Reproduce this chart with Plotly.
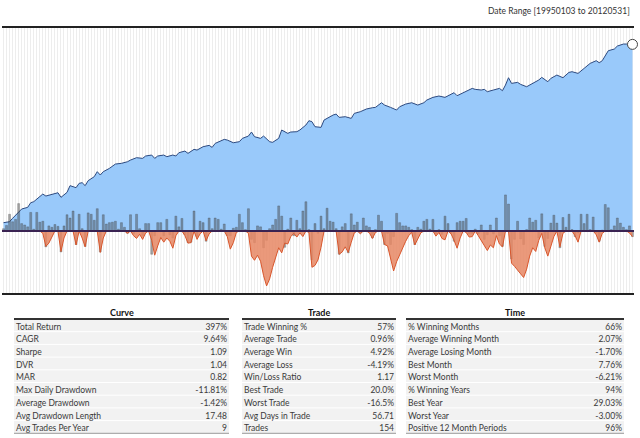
import plotly.graph_objects as go

W, H = 640, 438

# monthly strategy returns (%), Jan 1995 .. May 2012
monthly_ret = [
    0.5, 1.2, 3.6, 2.0, 2.5, 5.9, 1.6, 1.3, 0.9, 4.0, 0.4, 4.0,
    1.9, 2.1, -3.4, 1.1, 0.8, 1.4, 1.0, -4.5, 1.1, 3.5, 2.8, 4.3,
    -2.9, 3.6, 0.5, -3.3, 3.9, 3.6, 2.3, 4.8, -4.5, 3.5, 1.5, 1.8,
    1.9, 2.1, 0.4, 1.8, 0.8, -0.5, 3.5, -0.6, 3.6, 0.5, -1.0, 1.6,
    1.6, -5.0, -1.0, 1.8, 1.8, -1.0, 2.5, -0.8, -1.5, 3.2, 0.9, 2.7,
    -0.8, -2.5, -2.4, 4.3, -1.2, 2.1, 1.8, -2.2, 2.8, 0.5, 2.8, 2.5,
    0.4, 1.5, -1.0, -1.0, 0.6, 0.8, 3.6, 1.8, 0.3, 4.8, -1.8, -2.5,
    1.1, 0.9, -3.6, -2.0, 0.5, 1.3, 2.5, 5.4, 3.2, -3.5, 0.4, 2.8,
    -1.0, 2.3, 0.5, 4.3, 6.3, 0.3, -6.21, 1.6, -0.5, 3.2, 0.5, 4.9,
    2.1, 1.9, 0.5, -5.0, 0.9, 1.6, -4.7, 3.7, 1.3, 1.9, -0.4, 2.8,
    1.1, 0.8, -1.5, 0.3, 3.4, 2.1, -2.9, -0.5, -2.9, -1.2, 3.8, 1.8,
    1.1, 1.1, 0.8, 0.3, -2.9, 0.8, 0.4, 2.1, 2.5, 0.4, 2.5, -0.6,
    0.3, -0.7, 3.2, 1.6, -0.5, -2.2, 1.8, 2.1, 2.1, 2.7, -0.6, -0.5,
    0.4, -0.6, 1.3, -1.8, -0.8, 1.3, -0.6, 2.8, -1.0, -3.3, 7.76, 5.8,
    -6.0, -1.8, 2.1, -1.7, -2.9, 0.3, 2.8, 1.9, 2.3, -1.5, 3.7, -3.3,
    -1.6, 1.7, 3.4, 1.7, -3.6, 2.9, 0.8, 3.6, 0.3, -1.2, -0.4, 3.6,
    1.6, 3.6, 0.3, 3.0, -0.3, -2.2, 0.2, 5.7, 5.0, 0.3, 1.1, 2.8,
    1.7, 0.8, 0.3, 1.1, -1.2,
]

# drawdown (%) at each month end
drawdown = [
    0, 0, 0, 0, 0, 0, 0, 0, 0, 0, 0, 0,
    0, -0.5, -3.3, -2.6, -1.4, 0, 0, -4.4, -1.5, 0, 0, 0,
    -3.0, 0, -1.5, -3.4, 0, 0, 0, 0, -4.6, -1.5, 0, 0,
    0, 0, 0, 0, 0, -0.5, 0, -1.0, -1.6, -0.7, -1.8, -0.4,
    0, -2.0, -5.2, -3.2, -1.4, -2.4, -1.5, -2.2, -3.7, -1.0, 0, 0,
    -1.0, -2.6, -2.5, 0, -1.8, -0.6, 0, -2.1, -0.6, 0, 0, 0,
    0, 0, -1.2, -3.9, -2.5, -0.3, 0, 0, 0, -0.5, -5.4, -6.3,
    -5.2, -6.5, -9.6, -11.81, -10.3, -7.8, -5.4, -3.6, -4.7, -2.6, -2.8, -1.2,
    -0.5, -1.3, -0.4, -1.2, 0, -0.3, -7.8, -7.4, -6.2, -3.5, 0, 0,
    0, 0, 0, -5.0, -4.5, -3.4, -4.6, -2.4, -0.4, 0, -0.6, 0,
    0, -0.4, -1.6, -0.3, 0, 0, -2.9, -3.2, -5.6, -8.6, -6.6, -5.0,
    -3.8, -2.2, -1.0, -0.3, -3.0, -1.8, -0.4, 0, 0, 0, 0, -1.1,
    -0.3, -1.6, -1.9, 0, -0.6, -2.0, -3.7, -1.5, 0, -0.3, -1.3, -1.2,
    0, -1.0, -2.0, -3.2, -4.2, -3.0, -3.6, -1.0, -2.8, -3.4, 0, 0,
    -6.9, -7.6, -8.5, -9.2, -10.0, -8.2, -5.4, -3.6, -4.4, -2.0, -0.5, -3.6,
    -5.4, -3.4, -1.2, 0, -3.4, -0.5, 0, 0, 0, -1.0, -2.4, 0,
    0, 0, 0, 0, -0.8, -2.4, -0.5, 0, 0, 0, 0, 0,
    0, 0, 0, -0.4, -1.2,
]
months = list(range(len(monthly_ret)))

# equity curve (growth of 100), sampled at month index
eq_month = [
    0, 2, 3, 5, 6, 8, 9, 10, 13, 14, 16, 18, 19, 21, 22, 24, 25, 26, 27, 28,
    30, 31, 32, 33, 35, 37, 39, 41, 42, 44, 46, 47, 49, 50, 51, 53, 54, 56, 57, 58,
    60, 61, 63, 64, 66, 68, 69, 70, 73, 74, 76, 78, 79, 81, 82, 83, 85, 86, 88, 89,
    91, 92, 94, 95, 97, 98, 100, 101, 102, 103, 105,
    106, 109, 110, 111, 113, 115, 116, 118, 120, 122, 123, 125, 126, 128, 130, 131,
    133, 135, 137, 139, 140, 142, 144, 146, 148, 149, 150, 152, 155, 156, 158, 159,
    160, 162, 164, 165, 166, 167, 168, 170, 171, 173, 175, 177, 178, 180, 181, 183,
    185, 187, 188, 190, 192, 194, 196, 197, 198, 200, 202, 203, 205, 206, 207, 208,
]
eq_value = [
    100, 100.9, 104.0, 110.4, 113.1, 114.8, 119.7, 120.8, 129.4, 127.1,
    129.4, 130.9, 125.6, 131.3, 139.5, 137.0, 142.4, 143.3, 139.5, 145.9,
    151.2, 158.2, 153.5, 158.2, 162.9, 169.4, 170.5, 173.0, 175.6, 179.4,
    178.3, 182.1, 183.7, 178.3, 182.1, 183.7, 181.0, 183.7, 182.1, 187.6,
    190.4, 186.5, 193.3, 192.1, 198.0, 200.4, 196.8, 204.0, 211.5, 210.2,
    205.2, 207.1, 213.4, 217.9, 225.9, 216.6, 213.4, 217.9, 207.1, 205.9,
    213.4, 230.0, 223.2, 225.9, 226.6, 230.0, 240.6, 250.1, 247.9, 237.0, 235.6,
    251.6, 263.2, 265.5, 257.7, 259.3, 255.4, 267.1, 271.2, 277.8, 281.1,
    281.9, 294.0, 287.9, 281.9, 275.3, 283.6, 290.5, 294.0, 287.9, 294.0,
    301.2, 308.5, 312.2, 308.5, 317.8, 321.7, 313.1, 321.7, 334.4, 331.5,
    329.5, 331.5, 324.6, 329.5, 334.4, 327.5, 344.6, 368.1, 349.8, 353.0,
    346.7, 339.5, 349.8, 360.5, 369.2, 355.1, 365.9, 377.0, 368.1, 386.2,
    388.5, 382.7, 400.3, 418.7, 428.9, 421.2, 428.9, 469.2, 476.3, 489.3,
    498.2, 498.2, 489.3, 496.7,
]

date_range = "Date Range [19950103 to 20120531]"

curve_labels = ["Total Return", "CAGR", "Sharpe", "DVR", "MAR", "Max Daily Drawdown",
                "Average Drawdown", "Avg Drawdown Length", "Avg Trades Per Year"]
curve_values = ["397%", "9.64%", "1.09", "1.04", "0.82", "-11.81%", "-1.42%", "17.48", "9"]

trade_labels = ["Trade Winning %", "Average Trade", "Average Win", "Average Loss",
                "Win/Loss Ratio", "Best Trade", "Worst Trade", "Avg Days in Trade", "Trades"]
trade_values = ["57%", "0.96%", "4.92%", "-4.19%", "1.17", "20.0%", "-16.5%", "56.71", "154"]

time_labels = ["% Winning Months", "Average Winning Month", "Average Losing Month",
               "Best Month", "Worst Month", "% Winning Years", "Best Year", "Worst Year",
               "Positive 12 Month Periods"]
time_values = ["66%", "2.07%", "-1.70%", "7.76%", "-6.21%", "94%", "29.03%", "-3.00%", "96%"]

FONT = "Lato"

# axis ranges: equity on a log axis, returns / drawdown in % on an overlay axis
eq_range = [1.7256, 2.760]
pct_range = [-13.33, 43.66]
frac0 = -pct_range[0] / (pct_range[1] - pct_range[0])
eq_floor = 10 ** (eq_range[0] + frac0 * (eq_range[1] - eq_range[0]))

fig = go.Figure()

# floor for the blue equity fill (sits on the zero line of the % axis)
fig.add_trace(go.Scatter(
    x=[months[0], months[-1]], y=[eq_floor, eq_floor],
    mode="lines", line=dict(width=0), hoverinfo="skip", showlegend=False,
))
fig.add_trace(go.Scatter(
    x=eq_month, y=eq_value, mode="lines", fill="tonexty",
    fillcolor="#99c9fa", line=dict(color="#2d4a80", width=1),
    showlegend=False, name="Equity",
))
fig.add_trace(go.Scatter(
    x=[eq_month[-1]], y=[eq_value[-1]], mode="markers",
    marker=dict(size=10, color="white", line=dict(color="#444", width=1)),
    showlegend=False, cliponaxis=False,
))

# drawdown area
fig.add_trace(go.Scatter(
    x=months, y=drawdown, yaxis="y2", mode="lines", fill="tozeroy",
    fillcolor="rgba(230,135,100,0.85)", line=dict(color="#d8562c", width=1),
    showlegend=False, name="Drawdown",
))
# monthly returns
fig.add_trace(go.Bar(
    x=months, y=monthly_ret, yaxis="y2",
    marker=dict(color="rgba(70,70,70,0.45)", line=dict(color="rgba(50,50,50,0.5)", width=0.5)),
    showlegend=False, name="Monthly Return",
))


def px_x(v):
    return v / W


def px_y(v):
    return 1 - v / H


# stats tables; plotly pads table text by 8px, so the trace box is nudged
# outward/upward and the row backgrounds are drawn as shapes at the true spot
table_top, header_h, row_h = 306, 13, 12.7
pad_x, pad_y = 6, 3.7
tables = [
    ("Curve", curve_labels, curve_values, 14, 229, [0.72, 0.28]),
    ("Trade", trade_labels, trade_values, 242, 396, [0.68, 0.32]),
    ("Time", time_labels, time_values, 406, 624, [0.72, 0.28]),
]
shapes = []
annotations = []
for title, labels, values, x0, x1, cw in tables:
    n = len(labels)
    line_y = table_top + header_h
    bottom = line_y + n * row_h
    shapes.append(dict(type="rect", xref="paper", yref="paper", x0=px_x(x0), x1=px_x(x1),
                       y0=px_y(bottom), y1=px_y(line_y), fillcolor="#f2f2f2",
                       line=dict(width=0), layer="below"))
    for k in range(1, n):
        yy = line_y + k * row_h
        shapes.append(dict(type="line", xref="paper", yref="paper", x0=px_x(x0), x1=px_x(x1),
                           y0=px_y(yy), y1=px_y(yy), line=dict(color="white", width=1),
                           layer="below"))
    shapes.append(dict(type="line", xref="paper", yref="paper", x0=px_x(x0), x1=px_x(x1),
                       y0=px_y(line_y), y1=px_y(line_y), line=dict(color="#333", width=2)))
    shapes.append(dict(type="line", xref="paper", yref="paper", x0=px_x(x0), x1=px_x(x1),
                       y0=px_y(bottom), y1=px_y(bottom), line=dict(color="#999", width=1)))

    fig.add_trace(go.Table(
        domain=dict(x=[px_x(x0 - pad_x), px_x(x1 + pad_x)],
                    y=[px_y(bottom + 3), px_y(table_top - pad_y)]),
        columnwidth=cw,
        header=dict(values=["", ""], height=header_h, fill_color="rgba(0,0,0,0)",
                    line=dict(color="rgba(0,0,0,0)", width=0)),
        cells=dict(values=[labels, values], height=row_h, align=["left", "right"],
                   fill_color="rgba(0,0,0,0)", line=dict(color="rgba(0,0,0,0)", width=0),
                   font=dict(family=FONT, size=8.5, color="#3a3a3a")),
    ))
    annotations.append(dict(
        x=px_x((x0 + x1) / 2), y=px_y(table_top + header_h / 2), xref="paper", yref="paper",
        text="<b>%s</b>" % title, showarrow=False, xanchor="center", yanchor="middle",
        font=dict(family=FONT, size=9, color="#111"),
    ))

# zero line of the % axis
shapes.append(dict(type="line", xref="paper", yref="y2", x0=px_x(2), x1=px_x(634),
                   y0=0, y1=0, line=dict(color="#3a2352", width=2), layer="above"))

annotations.append(dict(
    x=px_x(632), y=px_y(11), xref="paper", yref="paper", text=date_range,
    showarrow=False, xanchor="right", yanchor="middle",
    font=dict(family=FONT, size=8.5, color="#333"),
))

fig.update_layout(
    width=W, height=H, margin=dict(l=0, r=0, t=0, b=0),
    paper_bgcolor="white", plot_bgcolor="white",
    bargap=0.35,
    font=dict(family=FONT, size=9, color="#333"),
    xaxis=dict(domain=[px_x(2), px_x(634)], range=[-0.5, months[-1] + 0.5],
               side="top", showline=True, mirror=True, linecolor="#222", linewidth=1.5,
               showgrid=True, gridcolor="#ededed", gridwidth=1, dtick=1, tick0=0,
               showticklabels=False, ticks="", zeroline=False, fixedrange=True),
    yaxis=dict(domain=[px_y(293), px_y(28)], type="log", range=eq_range,
               showgrid=False, showticklabels=False, ticks="", zeroline=False,
               showline=False),
    yaxis2=dict(overlaying="y", range=pct_range, showgrid=False, showticklabels=False,
                ticks="", zeroline=False, showline=False),
    shapes=shapes,
    annotations=annotations,
)

fig.write_html("out.html", config={"displayModeBar": False},
               post_script="document.body.style.margin = '0';")
